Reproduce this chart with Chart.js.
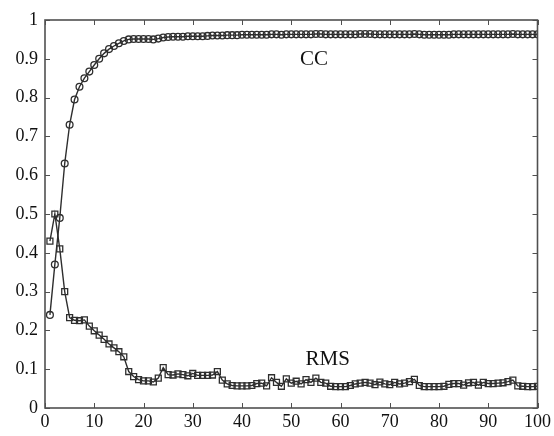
<!DOCTYPE html>
<html>
<head>
<meta charset="utf-8">
<script src="https://cdn.jsdelivr.net/npm/chart.js@4/dist/chart.umd.min.js"></script>
<style>
  html, body { margin: 0; padding: 0; background: #fff; }
  #wrap { width: 554px; height: 436px; }
</style>
</head>
<body>
<div id="wrap"><canvas id="myChart" width="554" height="436"></canvas></div>
<script>
// iteration number 1..100
const steps = Array.from({ length: 100 }, (_, i) => i + 1);

const ccValues = [
  0.24, 0.37, 0.49, 0.63, 0.73, 0.795, 0.828, 0.85, 0.867, 0.884,
  0.90, 0.914, 0.925, 0.933, 0.94, 0.946, 0.950, 0.951, 0.951, 0.951,
  0.951, 0.950, 0.952, 0.955, 0.956, 0.957, 0.957, 0.957, 0.958, 0.958,
  0.958, 0.958, 0.959, 0.960, 0.960, 0.960, 0.961, 0.961, 0.961, 0.962,
  0.962, 0.962, 0.962, 0.962, 0.962, 0.963, 0.963, 0.962, 0.963, 0.963,
  0.963, 0.963, 0.963, 0.963, 0.964, 0.964, 0.963, 0.963, 0.963, 0.963,
  0.963, 0.963, 0.963, 0.964, 0.964, 0.964, 0.963, 0.963, 0.963, 0.963,
  0.963, 0.963, 0.963, 0.963, 0.964, 0.963, 0.962, 0.962, 0.962, 0.962,
  0.962, 0.962, 0.963, 0.963, 0.963, 0.963, 0.963, 0.963, 0.963, 0.963,
  0.963, 0.963, 0.963, 0.963, 0.964, 0.963, 0.963, 0.963, 0.963, 0.963
];

const rmsValues = [
  0.43, 0.50, 0.41, 0.30, 0.233, 0.226, 0.225, 0.227, 0.211, 0.199,
  0.188, 0.177, 0.165, 0.155, 0.145, 0.132, 0.094, 0.081, 0.073, 0.070,
  0.070, 0.067, 0.077, 0.104, 0.086, 0.085, 0.088, 0.086, 0.083, 0.089,
  0.084, 0.084, 0.084, 0.085, 0.094, 0.072, 0.062, 0.058, 0.057, 0.057,
  0.057, 0.058, 0.063, 0.064, 0.057, 0.078, 0.066, 0.056, 0.075, 0.064,
  0.069, 0.062, 0.073, 0.066, 0.077, 0.066, 0.064, 0.056, 0.055, 0.055,
  0.055, 0.058, 0.062, 0.064, 0.066, 0.064, 0.060, 0.067, 0.062, 0.060,
  0.066, 0.062, 0.064, 0.068, 0.074, 0.058, 0.055, 0.055, 0.055, 0.055,
  0.056, 0.061, 0.063, 0.063, 0.059, 0.065, 0.066, 0.059, 0.066, 0.063,
  0.063, 0.064, 0.065, 0.068, 0.072, 0.057, 0.056, 0.055, 0.055, 0.056
];

const xTicks = [0, 10, 20, 30, 40, 50, 60, 70, 80, 90, 100];
const yTicks = [0, 0.1, 0.2, 0.3, 0.4, 0.5, 0.6, 0.7, 0.8, 0.9, 1];

// text labels next to the curves: [text, x, y]
const curveLabels = [
  ['CC', 54.6, 0.897],
  ['RMS', 57.4, 0.126]
];

const axisColor = '#505050';
const lineColor = '#2e2e2e';
const serif = '"Liberation Serif", "Times New Roman", serif';

// plugin: box around plot, inward ticks on all four sides, curve labels
const boxAndTicks = {
  id: 'boxAndTicks',
  afterDraw(chart) {
    const { ctx, chartArea: a, scales } = chart;
    const len = 5;
    ctx.save();
    ctx.strokeStyle = axisColor;
    ctx.lineWidth = 1.6;
    ctx.strokeRect(a.left, a.top, a.right - a.left, a.bottom - a.top);
    ctx.lineWidth = 1;
    ctx.beginPath();
    xTicks.forEach(v => {
      const px = Math.round(scales.x.getPixelForValue(v)) + 0.5;
      ctx.moveTo(px, a.bottom); ctx.lineTo(px, a.bottom - len);
      ctx.moveTo(px, a.top); ctx.lineTo(px, a.top + len);
    });
    yTicks.forEach(v => {
      const py = Math.round(scales.y.getPixelForValue(v)) + 0.5;
      ctx.moveTo(a.left, py); ctx.lineTo(a.left + len, py);
      ctx.moveTo(a.right, py); ctx.lineTo(a.right - len, py);
    });
    ctx.stroke();

    ctx.fillStyle = '#111';
    ctx.font = '21px ' + serif;
    ctx.textAlign = 'center';
    ctx.textBaseline = 'middle';
    curveLabels.forEach(([t, x, y]) => {
      ctx.fillText(t, scales.x.getPixelForValue(x), scales.y.getPixelForValue(y));
    });
    ctx.restore();
  }
};

const ctx = document.getElementById('myChart');

new Chart(ctx, {
  type: 'line',
  data: {
    datasets: [
      {
        label: 'CC',
        data: steps.map((s, i) => ({ x: s, y: ccValues[i] })),
        borderColor: lineColor,
        borderWidth: 1.4,
        pointStyle: 'circle',
        pointRadius: 3.4,
        pointBorderWidth: 1.3,
        pointBorderColor: lineColor,
        pointBackgroundColor: 'rgba(255,255,255,0)',
        tension: 0
      },
      {
        label: 'RMS',
        data: steps.map((s, i) => ({ x: s, y: rmsValues[i] })),
        borderColor: lineColor,
        borderWidth: 1.4,
        pointStyle: 'rect',
        pointRadius: 4.2,
        pointBorderWidth: 1.3,
        pointBorderColor: lineColor,
        pointBackgroundColor: 'rgba(255,255,255,0)',
        tension: 0
      }
    ]
  },
  options: {
    responsive: false,
    animation: false,
    events: [],
    layout: { padding: { top: 20, right: 16, left: 0, bottom: 0 } },
    plugins: {
      legend: { display: false },
      tooltip: { enabled: false }
    },
    scales: {
      x: {
        type: 'linear',
        min: 0,
        max: 100,
        afterFit(scale) { scale.height = 28; },
        afterBuildTicks(scale) { scale.ticks = xTicks.map(v => ({ value: v })); },
        grid: { display: false, drawTicks: false },
        border: { display: false },
        ticks: {
          color: '#111',
          font: { family: serif, size: 18 },
          padding: 3,
          maxRotation: 0
        }
      },
      y: {
        min: 0,
        max: 1,
        afterFit(scale) { scale.width = 45; },
        afterBuildTicks(scale) { scale.ticks = yTicks.map(v => ({ value: v })); },
        grid: { display: false, drawTicks: false },
        border: { display: false },
        ticks: {
          color: '#111',
          font: { family: serif, size: 18 },
          padding: 7,
          callback: v => String(Math.round(v * 10) / 10)
        }
      }
    }
  },
  plugins: [boxAndTicks]
});
</script>
</body>
</html>
